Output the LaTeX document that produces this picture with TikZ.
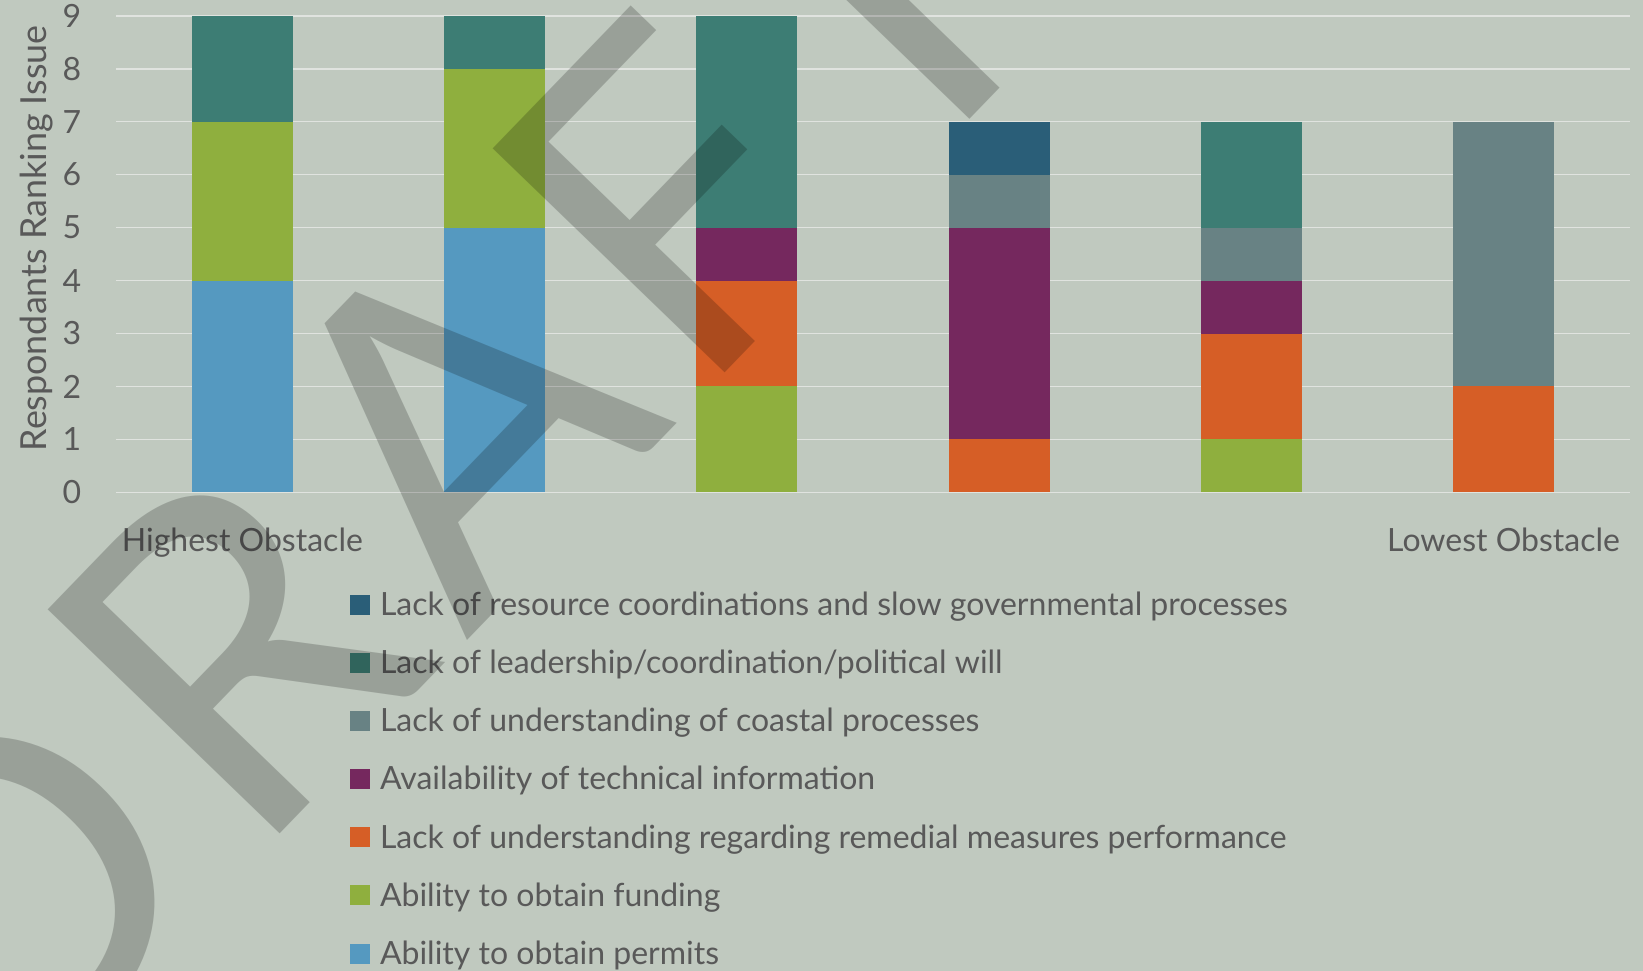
\documentclass[tikz,border=0pt]{standalone}
\usepackage{fontspec}
\setmainfont{Lato}
\usetikzlibrary{positioning}
\definecolor{bgc}{HTML}{C0C9BF}
\definecolor{gridc}{HTML}{E0E3DF}
\definecolor{txtc}{HTML}{595959}
\definecolor{permits}{HTML}{5599C0}
\definecolor{funding}{HTML}{8FAF3E}
\definecolor{remedial}{HTML}{D65E26}
\definecolor{techinfo}{HTML}{75285E}
\definecolor{coastal}{HTML}{688284}
\definecolor{leader}{HTML}{3D7D74}
\definecolor{resource}{HTML}{2A5E78}

\begin{document}
\begin{tikzpicture}[x=0.01cm,y=0.01cm,
  lbl/.style={text=txtc,inner sep=0pt,font=\fontsize{9.1}{11}\selectfont},
  gridline/.style={draw=gridc,line width=0.45pt},
  wmark/.style={text=black,opacity=0.2,inner sep=0pt,rotate=46,
    font=\fontsize{128}{128}\selectfont\addfontfeature{LetterSpace=6}}]
 % background
 \fill[bgc] (0,0) rectangle (1643,971);
 \useasboundingbox (0,0) rectangle (1643,971);

 % axis title
 \node[lbl,rotate=90,anchor=base,font=\fontsize{10.2}{12}\selectfont] (ytitle) at (46,732.5) {Respondants Ranking Issue};

 \begin{scope}[xshift=2.422cm,yshift=4.783cm,x=2.521cm,y=0.5293cm]
  % grid and ticks
  \foreach \v in {0,...,9} {
   \draw[gridline] (-0.5,\v) -- (5.5,\v);
   \node[lbl,anchor=east] (tick\v) at (-0.636,\v) {\v};
  }
  % stacked bars
  \foreach \c/\a/\b/\col in {0/0/4/permits, 0/4/7/funding, 0/7/9/leader,
    1/0/5/permits, 1/5/8/funding, 1/8/9/leader,
    2/0/2/funding, 2/2/4/remedial, 2/4/5/techinfo, 2/5/9/leader,
    3/0/1/remedial, 3/1/5/techinfo, 3/5/6/coastal, 3/6/7/resource,
    4/0/1/funding, 4/1/3/remedial, 4/3/4/techinfo, 4/4/5/coastal, 4/5/7/leader,
    5/0/2/remedial, 5/2/7/coastal} {
   \fill[\col] (\c-0.2,\a) rectangle (\c+0.2,\b);
  }
  % categories
  \node[lbl,anchor=base] (high) at (0,-1.115) {Highest Obstacle};
  \node[lbl,anchor=base] (low) at (5,-1.115) {Lowest Obstacle};
 \end{scope}

 % legend
 \foreach \col/\name [count=\k from 0] in {
   resource/{Lack of resource coordinations and slow governmental processes},
   leader/{Lack of leadership/coordination/political will},
   coastal/{Lack of understanding of coastal processes},
   techinfo/{Availability of technical information},
   remedial/{Lack of understanding regarding remedial measures performance},
   funding/{Ability to obtain funding},
   permits/{Ability to obtain permits}} {
  \fill[\col] (350,356-58.1*\k) rectangle ++(20,20);
  \node[lbl,anchor=base west] (leg\k) at (379.3,355.3-58.1*\k) {\name};
 }

 % watermark
 \node[wmark,anchor=base west] (draft) at (-6,-159) {DRAFT};
\end{tikzpicture}
\end{document}
